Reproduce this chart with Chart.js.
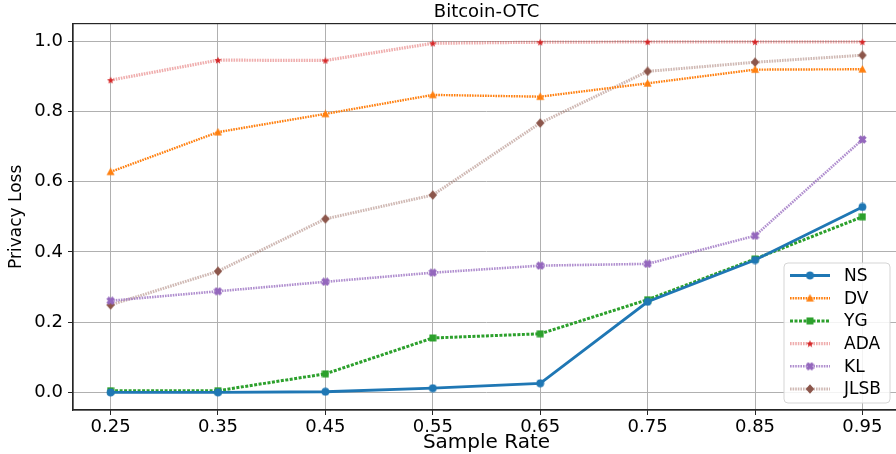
<!DOCTYPE html>
<html>
<head>
<meta charset="utf-8">
<script src="https://cdn.jsdelivr.net/npm/chart.js@4.4.1/dist/chart.umd.min.js"></script>
<style>
  html, body { margin: 0; padding: 0; background: #fff; overflow: hidden; }
  #wrap { width: 930px; height: 454px; position: relative; }
</style>
</head>
<body>
<div id="wrap"><canvas id="c"></canvas></div>
<script>
// Sample rates on the x axis and their tick labels
const sampleRates = [0.25, 0.35, 0.45, 0.55, 0.65, 0.75, 0.85, 0.95];
const xTickLabels = ['0.25', '0.35', '0.45', '0.55', '0.65', '0.75', '0.85', '0.95'];
const yTickValues = [0.0, 0.2, 0.4, 0.6, 0.8, 1.0];
const yTickLabels = ['0.0', '0.2', '0.4', '0.6', '0.8', '1.0'];

// Privacy loss per method
const seriesNames = ['NS', 'DV', 'YG', 'ADA', 'KL', 'JLSB'];
const nsLoss   = [0.000, 0.000, 0.002, 0.012, 0.026, 0.258, 0.377, 0.528];
const dvLoss   = [0.628, 0.741, 0.793, 0.847, 0.842, 0.880, 0.919, 0.920];
const ygLoss   = [0.005, 0.005, 0.053, 0.155, 0.167, 0.264, 0.380, 0.500];
const adaLoss  = [0.889, 0.946, 0.945, 0.994, 0.997, 0.998, 0.998, 0.998];
const klLoss   = [0.261, 0.288, 0.315, 0.341, 0.361, 0.366, 0.446, 0.720];
const jlsbLoss = [0.249, 0.345, 0.494, 0.562, 0.767, 0.914, 0.940, 0.960];

const FONT = "'DejaVu Sans', sans-serif";

// Small filled marker sprites
function marker(kind, color, size) {
  const c = document.createElement('canvas');
  c.width = size; c.height = size;
  const g = c.getContext('2d');
  const m = size / 2;
  g.fillStyle = color;
  g.beginPath();
  if (kind === 'circle') {
    g.arc(m, m, size / 2 - 0.6, 0, Math.PI * 2);
  } else if (kind === 'triangle') {
    const r = size / 2 - 0.3;
    g.moveTo(m, m - r);
    g.lineTo(m + r * 0.95, m + r * 0.75);
    g.lineTo(m - r * 0.95, m + r * 0.75);
    g.closePath();
  } else if (kind === 'square') {
    g.rect(0.5, 0.5, size - 1, size - 1);
  } else if (kind === 'star') {
    const ro = size / 2 - 0.2, ri = ro * 0.42;
    for (let k = 0; k < 10; k++) {
      const r = k % 2 === 0 ? ro : ri;
      const a = -Math.PI / 2 + k * Math.PI / 5;
      const px = m + r * Math.cos(a), py = m + r * Math.sin(a) + 0.4;
      if (k === 0) g.moveTo(px, py); else g.lineTo(px, py);
    }
    g.closePath();
  } else if (kind === 'xfilled') {
    const r = size / 2 - 0.3, t = r * 0.42;
    // plus shape rotated by 45 degrees
    const pts = [[-t, -r], [t, -r], [t, -t], [r, -t], [r, t], [t, t], [t, r], [-t, r], [-t, t], [-r, t], [-r, -t], [-t, -t]];
    const ca = Math.cos(Math.PI / 4), sa = Math.sin(Math.PI / 4);
    pts.forEach((p, k) => {
      const px = m + p[0] * ca - p[1] * sa, py = m + p[0] * sa + p[1] * ca;
      if (k === 0) g.moveTo(px, py); else g.lineTo(px, py);
    });
    g.closePath();
  } else if (kind === 'diamond') {
    const r = size / 2 - 0.3;
    g.moveTo(m, m - r); g.lineTo(m + r * 0.9, m); g.lineTo(m, m + r); g.lineTo(m - r * 0.9, m);
    g.closePath();
  }
  g.fill();
  return c;
}

const styles = [
  { color: '#1f77b4', width: 2.8, dash: [], mk: marker('circle', '#1f77b4', 9) },
  { color: '#ff7f0e', width: 2.4, dash: [1.6, 1.0], mk: marker('triangle', '#ff7f0e', 9) },
  { color: '#2ca02c', width: 3.0, dash: [3, 1.5], mk: marker('square', '#2ca02c', 8) },
  { color: 'rgba(214,39,40,0.38)', width: 3.2, dash: [1.6, 1.0], mk: marker('star', '#d62728', 8) },
  { color: 'rgba(148,103,189,0.75)', width: 2.6, dash: [1.6, 1.0], mk: marker('xfilled', '#9467bd', 9) },
  { color: 'rgba(140,86,75,0.42)', width: 3.0, dash: [1.6, 1.0], mk: marker('diamond', '#8c564b', 10) }
];
const allSeries = [nsLoss, dvLoss, ygLoss, adaLoss, klLoss, jlsbLoss];

const datasets = seriesNames.map((name, i) => ({
  label: name,
  data: sampleRates.map((x, j) => ({ x: x, y: allSeries[i][j] })),
  borderColor: styles[i].color,
  backgroundColor: styles[i].color,
  borderWidth: styles[i].width,
  borderDash: styles[i].dash,
  pointStyle: styles[i].mk,
  pointRadius: 5,
  pointHoverRadius: 5,
  tension: 0,
  fill: false,
  clip: false
}));

// Axes box drawn on all four sides
const frame = {
  id: 'frame',
  afterDatasetsDraw(chart) {
    const { ctx, chartArea: a } = chart;
    ctx.save();
    ctx.strokeStyle = '#262626';
    ctx.lineWidth = 1.2;
    ctx.strokeRect(a.left, a.top, a.right - a.left, a.bottom - a.top);
    ctx.restore();
  }
};

// Legend box in the lower right of the plot
const boxLegend = {
  id: 'boxLegend',
  afterDraw(chart) {
    const { ctx, chartArea: a } = chart;
    const w = 106, h = 140;
    const x0 = a.right - 10 - w, y0 = a.bottom - 7 - h;
    ctx.save();
    ctx.beginPath();
    if (ctx.roundRect) ctx.roundRect(x0, y0, w, h, 4); else ctx.rect(x0, y0, w, h);
    ctx.fillStyle = 'rgba(255,255,255,0.85)';
    ctx.fill();
    ctx.strokeStyle = '#d5d5d5';
    ctx.lineWidth = 1;
    ctx.stroke();
    chart.data.datasets.forEach((ds, i) => {
      const yy = y0 + 12.5 + i * 22.7;
      ctx.beginPath();
      ctx.setLineDash(ds.borderDash);
      ctx.strokeStyle = ds.borderColor;
      ctx.lineWidth = ds.borderWidth;
      ctx.moveTo(x0 + 6, yy);
      ctx.lineTo(x0 + 46, yy);
      ctx.stroke();
      ctx.setLineDash([]);
      const mk = ds.pointStyle;
      ctx.drawImage(mk, x0 + 26 - mk.width / 2, yy - mk.height / 2);
      ctx.fillStyle = '#000';
      ctx.font = '17px ' + FONT;
      ctx.textBaseline = 'middle';
      ctx.textAlign = 'left';
      ctx.fillText(ds.label, x0 + 60, yy + 1);
    });
    ctx.restore();
  }
};

new Chart(document.getElementById('c'), {
  type: 'line',
  data: { datasets: datasets },
  options: {
    responsive: true,
    maintainAspectRatio: false,
    animation: false,
    events: [],
    layout: { padding: { left: 0, right: 30, top: 0, bottom: 0 } },
    plugins: {
      legend: { display: false },
      tooltip: { enabled: false },
      title: {
        display: true,
        text: 'Bitcoin-OTC',
        fullSize: false,
        color: '#000',
        font: { family: FONT, size: 18, weight: 'normal', lineHeight: 1.2 },
        padding: { top: 2, bottom: 0 }
      }
    },
    scales: {
      x: {
        type: 'linear',
        min: 0.215,
        max: 0.985,
        afterBuildTicks: s => { s.ticks = sampleRates.map(v => ({ value: v })); },
        afterFit: s => { s.height = 44; },
        ticks: {
          callback: v => xTickLabels[sampleRates.indexOf(v)],
          color: '#000',
          font: { family: FONT, size: 18 },
          padding: 2,
          maxRotation: 0,
          autoSkip: false
        },
        grid: { color: '#b0b0b0', lineWidth: 1, tickColor: '#262626', tickLength: 5 },
        border: { color: '#262626', width: 1.2 },
        title: {
          display: true,
          text: 'Sample Rate',
          color: '#000',
          font: { family: FONT, size: 20, lineHeight: 1.1 },
          padding: { top: 0, bottom: 0 }
        }
      },
      y: {
        min: -0.05,
        max: 1.05,
        afterBuildTicks: s => { s.ticks = yTickValues.map(v => ({ value: v })); },
        afterFit: s => { s.width = 73; },
        ticks: {
          callback: v => yTickLabels[yTickValues.findIndex(t => Math.abs(t - v) < 1e-9)],
          color: '#000',
          font: { family: FONT, size: 18 },
          padding: 5,
          autoSkip: false
        },
        grid: { color: '#b0b0b0', lineWidth: 1, tickColor: '#262626', tickLength: 5 },
        border: { color: '#262626', width: 1.2 },
        title: {
          display: true,
          text: 'Privacy Loss',
          color: '#000',
          font: { family: FONT, size: 17, lineHeight: 1.2 },
          padding: { top: 6, bottom: 0 }
        }
      }
    }
  },
  plugins: [frame, boxLegend]
});
</script>
</body>
</html>
